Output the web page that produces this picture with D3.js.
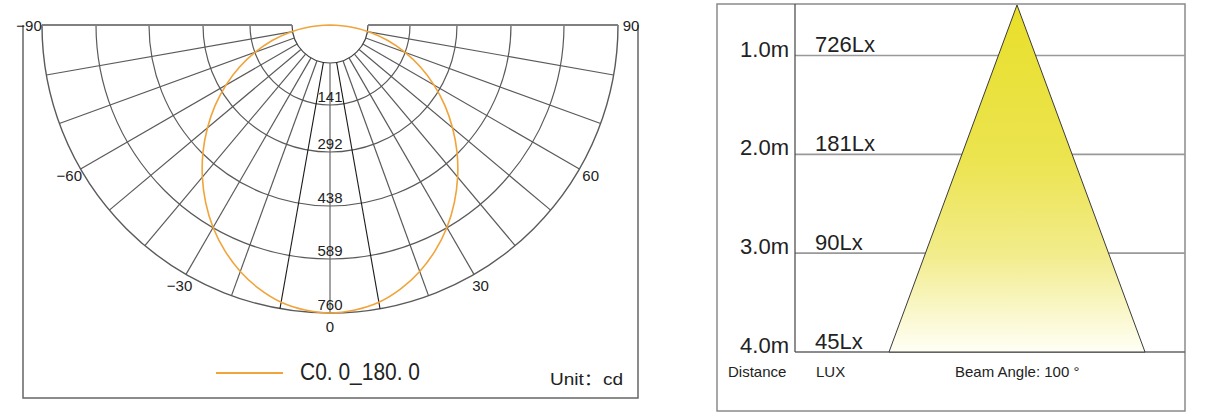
<!DOCTYPE html>
<html>
<head>
<meta charset="utf-8">
<script src="https://cdn.jsdelivr.net/npm/d3@7"></script>
<style>
  html, body { margin: 0; padding: 0; background: #fff; }
  svg { display: block; }
  text { font-family: "Liberation Sans", Arial, "Noto Sans CJK SC", sans-serif; fill: #222; }
</style>
</head>
<body>
<svg id="chart" width="1208" height="418"></svg>
<script>
// ---------- data ----------
const curveAngles = [0, 5, 10, 15, 20, 25, 30, 35, 40, 45, 50, 55, 60, 65, 70, 75, 80, 85, 90];
const curveValues = [760, 755, 743, 721, 692, 657, 617, 572, 524, 474, 422, 370, 317, 264, 210, 158, 105, 52, 0];
const ringValues = [141, 292, 438, 589, 760];
const spokeAngles = [-80, -70, -60, -50, -40, -30, -20, -10, 0, 10, 20, 30, 40, 50, 60, 70, 80];
const angleLabels = [-90, -60, -30, 0, 30, 60, 90];
const seriesName = "C0. 0_180. 0";
const unitLabel = "Unit\uFF1Acd";

const distances = [1, 2, 3, 4];
const distanceLabels = ["1.0m", "2.0m", "3.0m", "4.0m"];
const luxValues = [726, 181, 90, 45];
const beamAngle = 100;

// ---------- layout ----------
const svg = d3.select("#chart");
const cx = 330, cy = 25, hole = 38, R = 288;
const toRad = d => d * Math.PI / 180;

// grid ring scale (rings are offset by the central hole)
const rGrid = d3.scaleLinear().domain([0, ...ringValues]).range([hole, 80, 127, 181, 234, R]);
// curve scale (true polar, from centre)
const rCurve = d3.scaleLinear().domain([0, 760]).range([0, R]);

const left = svg.append("g");

// frame (left, bottom, right)
left.append("path")
  .attr("d", d3.line()([[23, 25], [23, 398], [638, 398], [638, 25]]))
  .attr("fill", "none").attr("stroke", "#666").attr("stroke-width", 1.5);

const pol = left.append("g").attr("transform", `translate(${cx},${cy})`);

// rings (lower semicircles)
[0, ...ringValues].forEach(v => {
  const p = d3.path();
  const r = rGrid(v);
  p.moveTo(r, 0);
  p.arc(0, 0, r, 0, Math.PI, false);
  pol.append("path").attr("d", p.toString())
    .attr("fill", "none")
    .attr("stroke", v === 0 ? "#444" : "#5a5a5a")
    .attr("stroke-width", v === 760 ? 1.4 : 1.2);
});

// spokes
spokeAngles.forEach(a => {
  const t = toRad(a);
  const r0 = rGrid(0), r1 = rGrid(760);
  pol.append("line")
    .attr("x1", r0 * Math.sin(t)).attr("y1", r0 * Math.cos(t))
    .attr("x2", r1 * Math.sin(t)).attr("y2", r1 * Math.cos(t))
    .attr("stroke", Math.abs(a) === 10 ? "#1a1a1a" : (a === 0 ? "#666" : "#5a5a5a"))
    .attr("stroke-width", Math.abs(a) === 10 ? 1.1 : 1.2);
});
// +-90 lines (top)
[-90, 90].forEach(a => {
  const t = toRad(a);
  const r0 = rGrid(0), r1 = rGrid(760);
  pol.append("line")
    .attr("x1", r0 * Math.sin(t)).attr("y1", 0)
    .attr("x2", r1 * Math.sin(t)).attr("y2", 0)
    .attr("stroke", "#808080").attr("stroke-width", 2);
});

// ring labels
pol.selectAll("text.ring").data(ringValues).join("text")
  .attr("class", "ring")
  .attr("x", 0).attr("y", d => rGrid(d) - 3.5)
  .attr("text-anchor", "middle")
  .attr("font-size", 15)
  .text(d => d);

// angle labels
pol.selectAll("text.ang").data(angleLabels).join("text")
  .attr("class", "ang")
  .attr("x", d => 301 * Math.sin(toRad(d)))
  .attr("y", d => 301 * Math.cos(toRad(d)))
  .attr("text-anchor", "middle")
  .attr("dominant-baseline", "central")
  .attr("font-size", 15)
  .attr("fill", "#333")
  .text(d => d < 0 ? "\u2212" + Math.abs(d) : String(d));

// curve
const curvePts = [];
for (let i = curveAngles.length - 1; i > 0; i--) curvePts.push([-curveAngles[i], curveValues[i]]);
for (let i = 0; i < curveAngles.length; i++) curvePts.push([curveAngles[i], curveValues[i]]);
const radial = d3.lineRadial()
  .angle(d => Math.PI - toRad(d[0]))
  .radius(d => rCurve(d[1]))
  .curve(d3.curveCatmullRom);
pol.append("path")
  .attr("d", radial(curvePts))
  .attr("fill", "none")
  .attr("stroke", "#f0a43a")
  .attr("stroke-width", 1.6);

// legend
left.append("line").attr("x1", 216).attr("x2", 283).attr("y1", 373).attr("y2", 373)
  .attr("stroke", "#f0a43a").attr("stroke-width", 2);
left.append("text").attr("x", 300).attr("y", 380)
  .attr("font-size", 24).attr("textLength", 120).attr("lengthAdjust", "spacingAndGlyphs")
  .attr("fill", "#333")
  .text(seriesName);
left.append("text").attr("x", 550).attr("y", 385)
  .attr("font-size", 16).attr("textLength", 73).attr("lengthAdjust", "spacingAndGlyphs")
  .text(unitLabel);

// ---------- right panel ----------
const right = svg.append("g");
const fx0 = 717, fx1 = 1185, fy0 = 4, fy1 = 411, axisX = 795;
const y = d3.scaleLinear().domain([1, 4]).range([55.5, 352]);

const defs = svg.append("defs");
const grad = defs.append("linearGradient").attr("id", "beam")
  .attr("x1", 0).attr("y1", 0).attr("x2", 0).attr("y2", 1);
[[0, "#e8df2a"], [0.45, "#ece450"], [0.72, "#f2ec8c"], [1, "#fffff6"]].forEach(([o, c]) =>
  grad.append("stop").attr("offset", o).attr("stop-color", c));

right.append("rect").attr("x", fx0).attr("y", fy0).attr("width", fx1 - fx0).attr("height", fy1 - fy0)
  .attr("fill", "none").attr("stroke", "#8a8a8a").attr("stroke-width", 1.5);

// horizontal distance lines
right.selectAll("line.h").data(distances).join("line")
  .attr("class", "h")
  .attr("x1", axisX).attr("x2", fx1)
  .attr("y1", d => y(d)).attr("y2", d => y(d))
  .attr("stroke", (d, i) => i === distances.length - 1 ? "#666" : "#999")
  .attr("stroke-width", 1.6);

// beam triangle
const apexX = 1017, apexY = 5, halfBase = 128;
right.append("path")
  .attr("d", d3.line()([[apexX, apexY], [apexX + halfBase, y(4)], [apexX - halfBase, y(4)]]) + "Z")
  .attr("fill", "url(#beam)")
  .attr("stroke", "#3a3a3a").attr("stroke-width", 1);

// vertical axis
right.append("line").attr("x1", axisX).attr("x2", axisX).attr("y1", fy0).attr("y2", y(4))
  .attr("stroke", "#444").attr("stroke-width", 1.2);

// labels
right.selectAll("text.dist").data(distances).join("text")
  .attr("class", "dist")
  .attr("x", 789).attr("y", d => y(d) + 1)
  .attr("text-anchor", "end").attr("font-size", 22)
  .text((d, i) => distanceLabels[i]);
right.selectAll("text.lux").data(luxValues).join("text")
  .attr("class", "lux")
  .attr("x", 815).attr("y", (d, i) => y(distances[i]) - 3.5)
  .attr("font-size", 22)
  .text(d => d + "Lx");

right.append("text").attr("x", 728).attr("y", 377).attr("font-size", 15).text("Distance");
right.append("text").attr("x", 816).attr("y", 377).attr("font-size", 15).text("LUX");
right.append("text").attr("x", 955).attr("y", 377).attr("font-size", 15).text(`Beam Angle: ${beamAngle} \u00B0`);
</script>
</body>
</html>
